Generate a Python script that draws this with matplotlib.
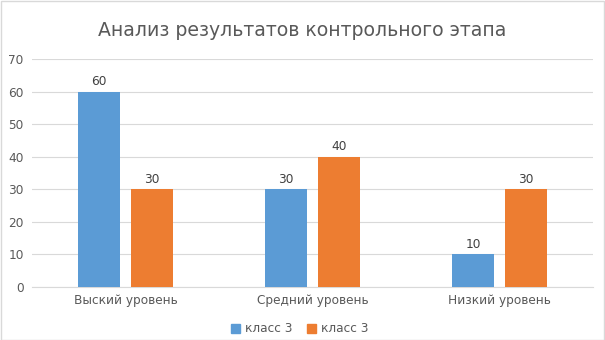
import matplotlib
matplotlib.use("Agg")
import matplotlib.pyplot as plt
import numpy as np
from matplotlib.patches import Rectangle

categories = ["Выский уровень", "Средний уровень", "Низкий уровень"]
series_names = ["класс 3", "класс 3"]
series_a = [60, 30, 10]
series_b = [30, 40, 30]
colors = ["#5b9bd5", "#ed7d31"]
text_color = "#595959"

plt.rcParams["font.family"] = ["DejaVu Sans"]

fig = plt.figure(figsize=(6.05, 3.40), dpi=100)
ax = fig.add_axes([32 / 605, 1 - 287 / 340, (593 - 32) / 605, (287 - 59) / 340])

x = np.arange(len(categories))
w = 0.225
off = 0.1417
for vals, c, d in zip([series_a, series_b], colors, [-off, off]):
    ax.bar(x + d, vals, width=w, color=c, zorder=3)
    for xi, v in zip(x + d, vals):
        ax.annotate(f"{v}", (xi, v), xytext=(0, 2.5), textcoords="offset points",
                    ha="center", va="bottom", fontsize=8.7, color="#404040")

ax.set_xlim(-0.5, 2.5)
ax.set_ylim(0, 70)
ax.set_yticks(range(0, 71, 10))
ax.set_xticks(x)
ax.set_xticklabels(categories)
ax.yaxis.grid(True, color="#d9d9d9", linewidth=0.8, zorder=0)
ax.set_axisbelow(True)
for s in ["top", "right", "left"]:
    ax.spines[s].set_visible(False)
ax.spines["bottom"].set_color("#d9d9d9")
ax.tick_params(axis="both", length=0, labelsize=8.7, colors=text_color)
ax.tick_params(axis="x", pad=5)
ax.tick_params(axis="y", pad=6)

fig.text(302 / 605, 1 - 30 / 340, "Анализ результатов контрольного этапа",
         ha="center", va="center", fontsize=13.6, color=text_color)

handles = [Rectangle((0, 0), 1, 1, color=c) for c in colors]
fig.legend(handles, series_names, loc="center", bbox_to_anchor=(300 / 605, 1 - 329 / 340),
           ncol=2, frameon=False, fontsize=8.7, handlelength=0.7, handleheight=0.7,
           handletextpad=0.45, columnspacing=1.2, labelcolor=text_color)

fig.patches.append(Rectangle((0.5 / 605, 0.5 / 340), 603 / 605, 338.5 / 340,
                             transform=fig.transFigure, fill=False,
                             edgecolor="#d9d9d9", linewidth=1))

fig.savefig("out.png", dpi=100, facecolor="white")
